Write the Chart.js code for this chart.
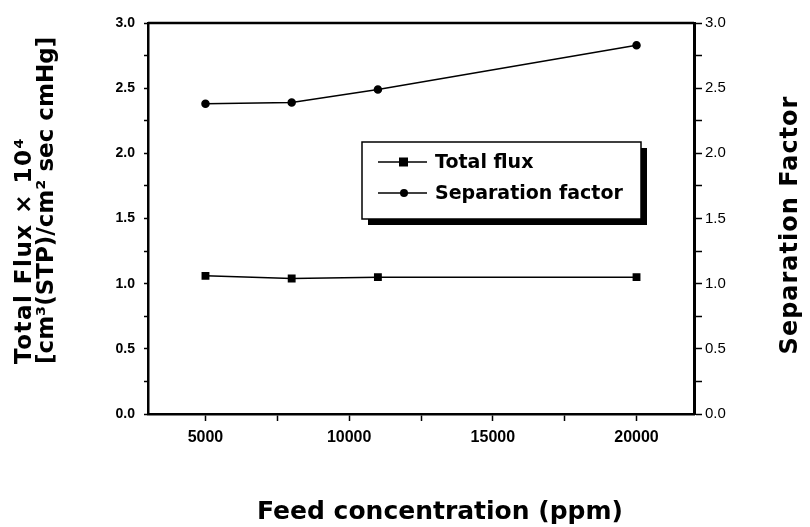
<!DOCTYPE html>
<html>
<head>
<meta charset="utf-8">
<script src="https://cdn.jsdelivr.net/npm/chart.js@4.4.1/dist/chart.umd.min.js"></script>
<style>
  html, body { margin: 0; padding: 0; background: #fff; }
  #wrap { width: 810px; height: 527px; }
</style>
</head>
<body>
<div id="wrap"><canvas id="chart" width="810" height="527"></canvas></div>
<script>
// data
const concentrations = [5000, 8000, 11000, 20000]
const totalFlux = [1.06, 1.04, 1.05, 1.05]
const sepFactor = [2.38, 2.39, 2.49, 2.83]

const xTickValues = [5000, 7500, 10000, 12500, 15000, 17500, 20000]
const xLabelled = [5000, 10000, 15000, 20000]

const xTitle = "Feed concentration (ppm)"
const yTitleLines = ["Total Flux \u00d7 10\u2074", "[cm\u00b3(STP)/cm\u00b2 sec cmHg]"]
const y2Title = "Separation Factor"

const toPoints = (xs, ys) => xs.map((x, i) => ({ x: x, y: ys[i] }))

const yLabel = (v) => (Math.round(v * 100) % 50 === 0 ? v.toFixed(1) : "")

// titles drawn by hand, the reference has both side titles reading bottom-to-top
const titlesPlugin = {
  id: "titles",
  afterDraw(chart) {
    const ctx = chart.ctx
    const area = chart.chartArea
    ctx.save()
    ctx.fillStyle = "#000"
    ctx.textBaseline = "alphabetic"

    // top frame line
    ctx.strokeStyle = "#000"
    ctx.lineWidth = 2.5
    ctx.beginPath()
    ctx.moveTo(area.left, area.top)
    ctx.lineTo(area.right, area.top)
    ctx.stroke()

    // left title, two lines
    ctx.font = "bold 23px 'DejaVu Sans'"
    ctx.textAlign = "left"
    const lx = [31, 53]
    const spacing = ["1.5px", "0px"]
    yTitleLines.forEach((line, i) => {
      ctx.save()
      ctx.letterSpacing = spacing[i]
      ctx.translate(lx[i], 364)
      ctx.rotate(-Math.PI / 2)
      ctx.fillText(line, 0, 0)
      ctx.restore()
    })

    // right title
    ctx.save()
    ctx.font = "bold 24px 'DejaVu Sans'"
    ctx.letterSpacing = "1px"
    ctx.textAlign = "center"
    ctx.translate(797, 225)
    ctx.rotate(-Math.PI / 2)
    ctx.fillText(y2Title, 0, 0)
    ctx.restore()

    // x title
    ctx.font = "bold 25px 'DejaVu Sans'"
    ctx.textAlign = "center"
    ctx.fillText(xTitle, 440, 519)
    ctx.restore()
  }
}

// legend box with drop shadow inside the plot
const legendPlugin = {
  id: "boxLegend",
  afterDraw(chart) {
    const ctx = chart.ctx
    const bx = 362, by = 142, bw = 279, bh = 77
    ctx.save()
    ctx.fillStyle = "#000"
    ctx.fillRect(bx + 6, by + 6, bw, bh)
    ctx.fillStyle = "#fff"
    ctx.fillRect(bx, by, bw, bh)
    ctx.strokeStyle = "#000"
    ctx.lineWidth = 1.5
    ctx.strokeRect(bx, by, bw, bh)

    const rows = [162, 193]
    chart.data.datasets.forEach((ds, i) => {
      const ry = rows[i]
      ctx.strokeStyle = "#000"
      ctx.lineWidth = 1.5
      ctx.beginPath()
      ctx.moveTo(378, ry)
      ctx.lineTo(427, ry)
      ctx.stroke()
      ctx.fillStyle = "#000"
      if (ds.pointStyle === "rect") {
        ctx.fillRect(399, ry - 4.5, 9, 9)
      } else {
        ctx.beginPath()
        ctx.arc(404, ry, 4, 0, Math.PI * 2)
        ctx.fill()
      }
      ctx.font = "bold 19px 'DejaVu Sans'"
      ctx.textAlign = "left"
      ctx.textBaseline = "middle"
      ctx.fillText(ds.label, 435, ry + 1)
    })
    ctx.restore()
  }
}

const chart = new Chart(document.getElementById("chart"), {
  type: "line",
  data: {
    datasets: [
      {
        label: "Total flux",
        data: toPoints(concentrations, totalFlux),
        yAxisID: "y",
        borderColor: "#000",
        backgroundColor: "#000",
        borderWidth: 1.5,
        pointStyle: "rect",
        pointRadius: 4.5,
        pointHoverRadius: 4.5
      },
      {
        label: "Separation factor",
        data: toPoints(concentrations, sepFactor),
        yAxisID: "y2",
        borderColor: "#000",
        backgroundColor: "#000",
        borderWidth: 1.5,
        pointStyle: "circle",
        pointRadius: 3.5,
        pointHoverRadius: 3.5
      }
    ]
  },
  options: {
    responsive: false,
    animation: false,
    layout: { padding: { top: 23, left: 0, right: 0, bottom: 0 } },
    plugins: {
      legend: { display: false },
      tooltip: { enabled: false }
    },
    scales: {
      x: {
        type: "linear",
        min: 3000,
        max: 22000,
        afterBuildTicks: (scale) => {
          scale.ticks = xTickValues.map(v => ({ value: v }))
        },
        afterFit: (scale) => { scale.height = 113 },
        ticks: {
          autoSkip: false,
          maxRotation: 0,
          padding: 7,
          color: "#000",
          font: { family: "'Liberation Sans'", size: 16, weight: "bold" },
          callback: (v) => (xLabelled.includes(v) ? String(v) : "")
        },
        grid: { drawOnChartArea: false, drawTicks: true, tickLength: 7, tickWidth: 1.5, color: "#000" },
        border: { display: true, color: "#000", width: 2.5 }
      },
      y: {
        position: "left",
        min: 0,
        max: 3,
        afterFit: (scale) => { scale.width = 148 },
        ticks: {
          stepSize: 0.25,
          autoSkip: false,
          padding: 9,
          color: "#000",
          font: { family: "'Liberation Sans'", size: 14, weight: "bold" },
          callback: yLabel
        },
        grid: { drawOnChartArea: false, drawTicks: true, tickLength: 4, tickWidth: 1.5, color: "#000" },
        border: { display: true, color: "#000", width: 2.5 }
      },
      y2: {
        position: "right",
        min: 0,
        max: 3,
        afterFit: (scale) => { scale.width = 116 },
        ticks: {
          stepSize: 0.25,
          autoSkip: false,
          padding: 3,
          color: "#000",
          font: { family: "'Liberation Sans'", size: 15 },
          callback: yLabel
        },
        grid: { drawOnChartArea: false, drawTicks: true, tickLength: 8, tickWidth: 1.5, color: "#000" },
        border: { display: true, color: "#000", width: 3 }
      }
    }
  },
  plugins: [titlesPlugin, legendPlugin]
})
</script>
</body>
</html>
